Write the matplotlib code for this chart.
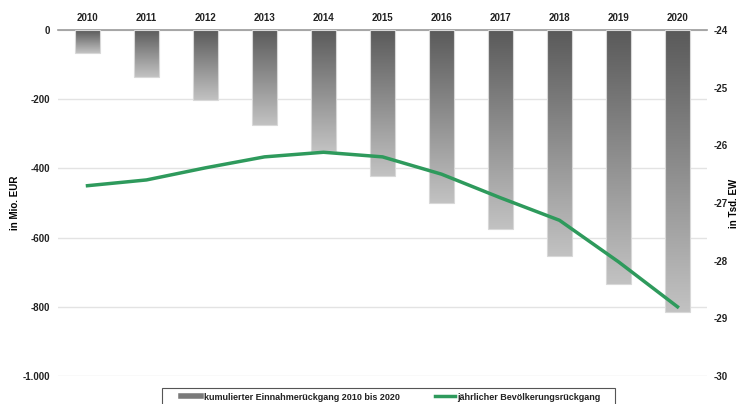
import matplotlib
matplotlib.use("Agg")
import matplotlib.pyplot as plt
import numpy as np
from matplotlib.colors import LinearSegmentedColormap
from matplotlib.lines import Line2D
from matplotlib.patches import Rectangle
from matplotlib.ticker import FuncFormatter

plt.rcParams['font.family'] = ['Liberation Sans', 'DejaVu Sans']
plt.rcParams['axes.unicode_minus'] = False

years = ["2010", "2011", "2012", "2013", "2014", "2015", "2016", "2017", "2018", "2019", "2020"]
einnahme = [-66, -136, -202, -275, -350, -422, -500, -575, -653, -734, -815]
bevoelkerung = [-26.70, -26.60, -26.39, -26.20, -26.12, -26.20, -26.50, -26.91, -27.30, -28.02, -28.80]

fig = plt.figure(figsize=(7.4, 4.04), dpi=100)
ax = fig.add_axes([58 / 740, 1 - 376 / 404, 649 / 740, 346 / 404])

x = np.arange(len(years))
w = 0.41
cmap = LinearSegmentedColormap.from_list("grau", ["#c2c2c2", "#5a5a5a"])
grad = np.linspace(0, 1, 256).reshape(-1, 1)

# Balken mit vertikalem Verlauf (dunkel oben, hell unten)
for xi, v in zip(x, einnahme):
    ax.imshow(grad, cmap=cmap, aspect="auto", origin="lower",
              extent=[xi - w / 2, xi + w / 2, v, 0], zorder=2)
    ax.bar(xi, v, width=w, facecolor="none", edgecolor="#d8d8d8", lw=0.8, zorder=3)

ax.set_xlim(-0.5, len(years) - 0.5)
ax.set_ylim(-1000, 0)
ax.set_yticks([0, -200, -400, -600, -800, -1000])
ax.yaxis.set_major_formatter(FuncFormatter(lambda v, p: f"{int(v):,}".replace(",", ".")))
ax.grid(axis="y", color="#e3e3e3", lw=1, zorder=0)
ax.set_axisbelow(True)

ax.xaxis.tick_top()
ax.set_xticks(x)
ax.set_xticklabels(years, fontweight="bold", fontsize=7, color="#222222")
ax.tick_params(axis="x", length=0, pad=5)
ax.tick_params(axis="y", length=0, labelsize=7, pad=6, colors="#222222")
for lbl in ax.get_yticklabels():
    lbl.set_fontweight("bold")
for s in ["left", "right", "bottom"]:
    ax.spines[s].set_visible(False)
ax.spines["top"].set_color("#9a9a9a")
ax.spines["top"].set_linewidth(1.2)
ax.set_ylabel("in Mio. EUR", fontsize=7, fontweight="bold")
ax.yaxis.set_label_coords(-0.0585, 0.5)

ax2 = ax.twinx()
ax2.plot(x, bevoelkerung, color="#2e9a5c", lw=2.5, zorder=5)
ax2.set_ylim(-30, -24)
ax2.set_yticks([-24, -25, -26, -27, -28, -29, -30])
ax2.tick_params(axis="y", length=0, labelsize=7, pad=5, colors="#222222")
for lbl in ax2.get_yticklabels():
    lbl.set_fontweight("bold")
for s in ["left", "right", "bottom", "top"]:
    ax2.spines[s].set_visible(False)
ax2.set_ylabel("in Tsd. EW", fontsize=7, fontweight="bold")
ax2.yaxis.set_label_coords(1.034, 0.5)

# Legende unten, Rahmen separat gezeichnet
handles = [Line2D([0], [0], color="#7a7a7a", lw=4),
           Line2D([0], [0], color="#2e9a5c", lw=2.5)]
labels = ["kumulierter Einnahmerückgang 2010 bis 2020", "jährlicher Bevölkerungsrückgang"]
leg = fig.legend(handles, labels, loc="center left", bbox_to_anchor=(181 / 740, 1 - 397 / 404),
                 ncol=2, fontsize=6.5, frameon=False, handlelength=2.2,
                 handletextpad=0.3, columnspacing=3.9, borderpad=0, borderaxespad=0)
for t in leg.get_texts():
    t.set_fontweight("bold")
    t.set_color("#222222")
fig.patches.append(Rectangle((162 / 740, 1 - 408 / 404), 453 / 740, 20 / 404,
                             transform=fig.transFigure, facecolor="none",
                             edgecolor="#555555", lw=0.8))

fig.savefig("out.png", dpi=100)
